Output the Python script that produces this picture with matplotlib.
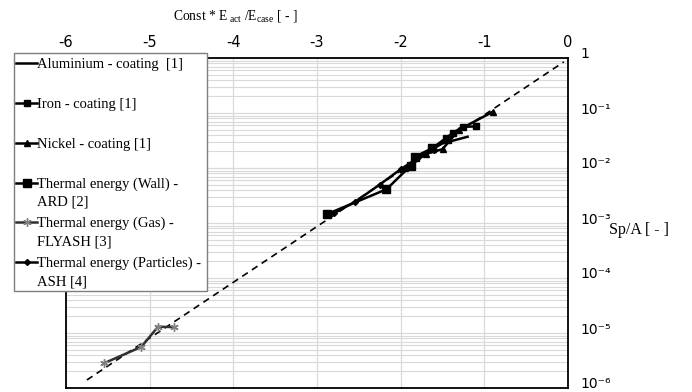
import matplotlib
matplotlib.use("Agg")
from matplotlib import pyplot as plt
from matplotlib.lines import Line2D
from matplotlib.patches import Rectangle
from matplotlib.ticker import FixedLocator, LogLocator, NullFormatter
from matplotlib.transforms import ScaledTranslation
import numpy as np

""" ------ data read off the picture ------- """

alu_x = [-2.00, -1.75, -1.50, -1.20]
alu_y = [8.5e-3, 1.7e-2, 2.8e-2, 3.7e-2]

iron_x = [-1.88, -1.62, -1.38, -1.26, -1.10]
iron_y = [1.1e-2, 2.3e-2, 4.3e-2, 5.6e-2, 5.7e-2]

nickel_x = [-1.95, -1.70, -1.50, -1.30, -0.90]
nickel_y = [1.0e-2, 1.8e-2, 2.2e-2, 5.0e-2, 1.05e-1]

wall_x = [-2.88, -2.17, -1.88, -1.83, -1.62, -1.45]
wall_y = [1.45e-3, 4.1e-3, 1.1e-2, 1.6e-2, 2.3e-2, 3.3e-2]

gas_x = [-5.55, -5.10, -4.90, -4.71]
gas_y = [2.8e-6, 5.6e-6, 1.3e-5, 1.28e-5]

ash_x = [-2.80, -2.55, -2.25, -2.00, -1.80, -1.60]
ash_y = [1.5e-3, 2.4e-3, 5.0e-3, 9.5e-3, 1.5e-2, 2.1e-2]

ref_x = [-5.75, -0.05]
ref_y = [1.4e-6, 0.85]

x_ticks = [-6, -5, -4, -3, -2, -1, 0]
y_ticks = [1e-6, 1e-5, 1e-4, 1e-3, 1e-2, 1e-1, 1]
y_labels = ["10\u207b\u2076", "10\u207b\u2075", "10\u207b\u2074", "10\u207b\u00b3",
            "10\u207b\u00b2", "10\u207b\u00b9", "1"]

SERIES = [
    ("Aluminium - coating  [1]", alu_x, alu_y, dict(color="black", marker=None)),
    ("Iron - coating [1]", iron_x, iron_y, dict(color="black", marker="s", ms=4)),
    ("Nickel - coating [1]", nickel_x, nickel_y, dict(color="black", marker="^", ms=5)),
    ("Thermal energy (Wall) -\nARD [2]", wall_x, wall_y, dict(color="black", marker="s", ms=6)),
    ("Thermal energy (Gas) -\nFLYASH [3]", gas_x, gas_y,
     dict(color="#303030", marker=(6, 2, 0), ms=6, mec="#808080", mfc="#808080")),
    ("Thermal energy (Particles) -\nASH [4]", ash_x, ash_y, dict(color="black", marker="D", ms=3)),
]

plt.rcParams["mathtext.fontset"] = "custom"
plt.rcParams["mathtext.rm"] = "Liberation Serif"
plt.rcParams["mathtext.it"] = "Liberation Serif:italic"

W, H = 692, 392
fig = plt.figure(figsize=(W / 100, H / 100), dpi=100)


def fx(px):
    return px / W


def fy(py):
    return 1 - py / H


ax = fig.add_axes([fx(66), fy(388), fx(568) - fx(66), fy(58) - fy(388)])
ax.set_yscale("log")
ax.set_xlim(-6, 0)
ax.set_ylim(1e-6, 1)

# grid like the excel original
ax.yaxis.set_minor_locator(LogLocator(base=10, subs=np.arange(2, 10)))
ax.yaxis.set_minor_formatter(NullFormatter())
ax.grid(True, which="major", color="#d9d9d9", lw=0.9)
ax.grid(True, which="minor", axis="y", color="#d9d9d9", lw=0.8)
ax.set_axisbelow(True)

ax.plot(ref_x, ref_y, color="black", ls=(0, (4, 3)), lw=1.2)
for name, xs, ys, st in SERIES:
    ax.plot(xs, ys, lw=1.8, **st)

ax.xaxis.set_ticks_position("top")
ax.xaxis.set_label_position("top")
ax.yaxis.set_ticks_position("right")
ax.set_xticks(x_ticks)
ax.set_xticklabels([str(t) for t in x_ticks])
ax.yaxis.set_major_locator(FixedLocator(y_ticks))
ax.set_yticklabels(y_labels)
ax.tick_params(which="both", length=0)
ax.tick_params(axis="x", pad=6, labelsize=10.5)
ax.tick_params(axis="y", pad=9, labelsize=10)
up = ScaledTranslation(0, 5 / 100, fig.dpi_scale_trans)
for lab in ax.get_yticklabels():
    lab.set_transform(lab.get_transform() + up)
for s in ax.spines.values():
    s.set_linewidth(1.3)
    s.set_color("black")

fig.text(fx(235), fy(16), r"Const * E$_{\rm\ act}$ /E$_{\rm case}$ [ - ]",
         ha="center", va="center", family="Liberation Serif", fontsize=9.8)
fig.text(fx(609), fy(230), "Sp/A [ - ]", ha="left", va="center",
         family="Liberation Serif", fontsize=11.5)

""" ---- legend drawn by hand so the rows match the original ---- """
fig.patches.append(Rectangle((fx(14), fy(291)), fx(207) - fx(14), fy(53) - fy(291),
                             transform=fig.transFigure, facecolor="white",
                             edgecolor="#7f7f7f", lw=1.0, zorder=5))
rows = [63, 103, 143, 183, 222, 262]
for (name, xs, ys, st), ry in zip(SERIES, rows):
    line_st = {k: v for k, v in st.items() if k == "color"}
    fig.lines.append(Line2D([fx(16), fx(37)], [fy(ry), fy(ry)], lw=1.8,
                            transform=fig.transFigure, zorder=6, **line_st))
    if st.get("marker") is not None:
        fig.lines.append(Line2D([fx(26.5)], [fy(ry)], lw=0,
                                transform=fig.transFigure, zorder=6, **st))
    for i, part in enumerate(name.split("\n")):
        fig.text(fx(37), fy(ry + 5 + 18 * i), part, ha="left", va="baseline",
                 family="Liberation Serif", fontsize=10.5, zorder=7)

fig.savefig("out.png", dpi=100)
